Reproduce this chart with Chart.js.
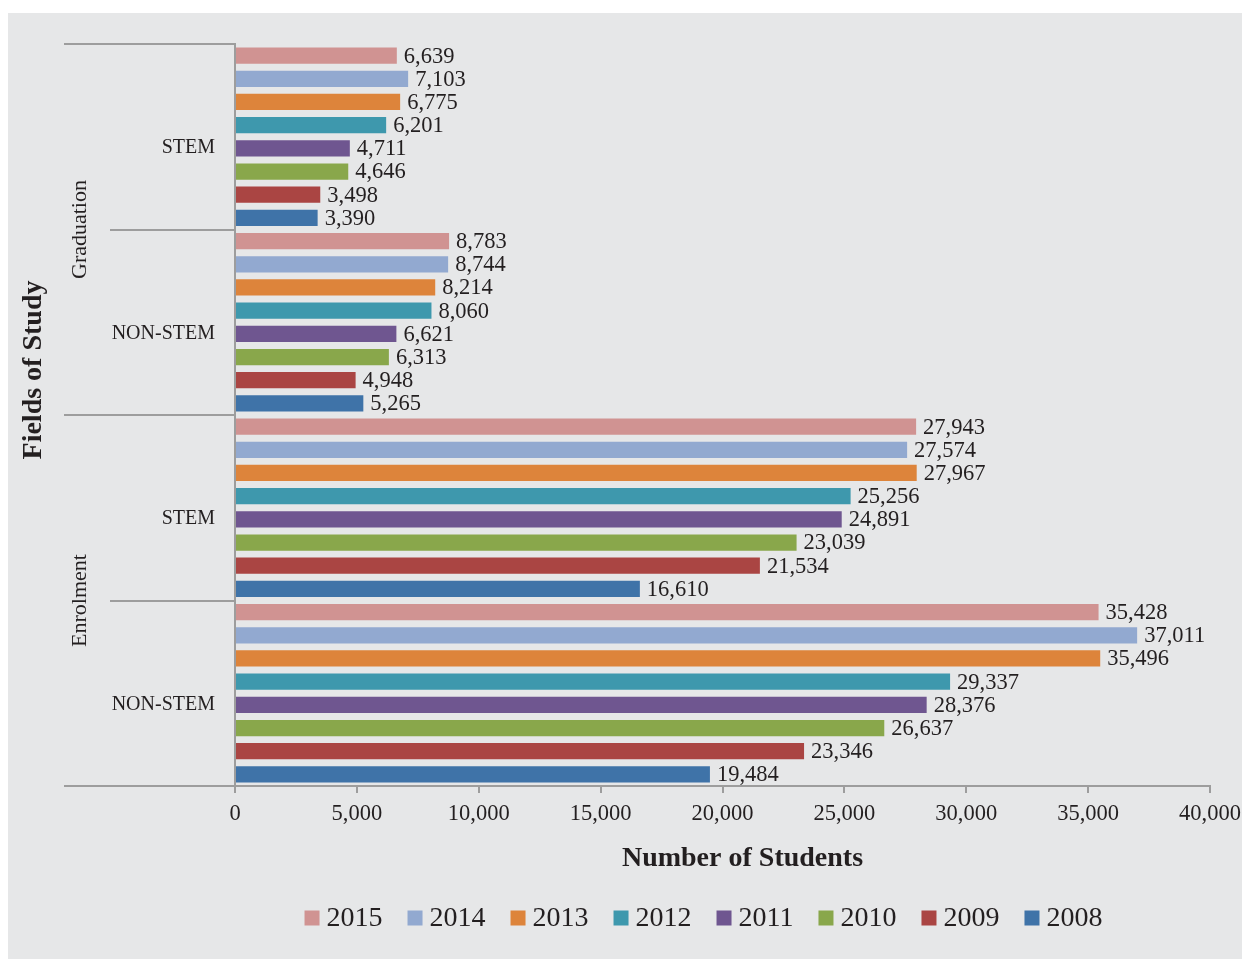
<!DOCTYPE html>
<html>
<head>
<meta charset="utf-8">
<script src="https://cdn.jsdelivr.net/npm/chart.js@4.4.1/dist/chart.umd.min.js"></script>
<style>
  html, body { margin: 0; padding: 0; background: #ffffff; }
  #wrap { position: absolute; left: 8px; top: 13px; width: 1234px; height: 946px; background: #e6e7e8; }
</style>
</head>
<body>
<div id="wrap"><canvas id="chart"></canvas></div>
<script>
// Category rows: outer level (stage) and inner level (field of study)
const stages = ['Graduation', 'Graduation', 'Enrolment', 'Enrolment'];
const fields = ['STEM', 'NON-STEM', 'STEM', 'NON-STEM'];

// Series (one per year), values per row in the order above
const years = ['2015', '2014', '2013', '2012', '2011', '2010', '2009', '2008'];
const students2015 = [6639, 8783, 27943, 35428];
const students2014 = [7103, 8744, 27574, 37011];
const students2013 = [6775, 8214, 27967, 35496];
const students2012 = [6201, 8060, 25256, 29337];
const students2011 = [4711, 6621, 24891, 28376];
const students2010 = [4646, 6313, 23039, 26637];
const students2009 = [3498, 4948, 21534, 23346];
const students2008 = [3390, 5265, 16610, 19484];
const series = [students2015, students2014, students2013, students2012,
                students2011, students2010, students2009, students2008];

// Axis range and ticks
const xMin = 0, xMax = 40000, xStep = 5000;

const yearColors = ['#d09392', '#92a9d0', '#dd843b', '#3e98ad', '#6f5690', '#89a74b', '#aa4543', '#3f73a8'];

const FONT = '"Liberation Serif", "Times New Roman", serif';
const TEXT = '#231f20';
const LINE = '#9d9d9d';
const fmt = v => Number(v).toLocaleString('en-US');

// Multi-level category axis: separators and outer group labels
const groupAxisPlugin = {
  id: 'groupAxis',
  afterDraw(chart) {
    const ctx = chart.ctx;
    const ys = chart.scales.y;
    const area = chart.chartArea;
    const n = fields.length;
    const step = ys.getPixelForValue(1) - ys.getPixelForValue(0);
    const edge = k => ys.getPixelForValue(0) - step / 2 + k * step;
    ctx.save();
    ctx.strokeStyle = LINE;
    ctx.lineWidth = 2;
    for (let k = 0; k <= n; k++) {
      const outer = k === 0 || k === n || stages[k] !== stages[k - 1];
      const y = Math.round(edge(k));
      ctx.beginPath();
      ctx.moveTo(outer ? 56 : 102, y);
      ctx.lineTo(area.left, y);
      ctx.stroke();
    }
    // outer labels, rotated
    ctx.fillStyle = TEXT;
    ctx.font = '22px ' + FONT;
    ctx.textAlign = 'center';
    ctx.textBaseline = 'middle';
    let start = 0;
    for (let k = 1; k <= n; k++) {
      if (k === n || stages[k] !== stages[start]) {
        const cy = (edge(start) + edge(k)) / 2;
        ctx.save();
        ctx.translate(72, cy);
        ctx.rotate(-Math.PI / 2);
        ctx.fillText(stages[start], 0, 0);
        ctx.restore();
        start = k;
      }
    }
    // axis titles
    ctx.font = 'bold 28px ' + FONT;
    ctx.save();
    ctx.translate(26, 357);
    ctx.rotate(-Math.PI / 2);
    ctx.fillText('Fields of Study', 0, 0);
    ctx.restore();
    ctx.fillText('Number of Students', (area.left + area.right) / 2 + 20, 846);
    ctx.restore();
  }
};

// Value labels at the end of each bar
const valueLabelPlugin = {
  id: 'valueLabels',
  afterDatasetsDraw(chart) {
    const ctx = chart.ctx;
    ctx.save();
    ctx.fillStyle = TEXT;
    ctx.font = '22.5px ' + FONT;
    ctx.textAlign = 'left';
    ctx.textBaseline = 'middle';
    chart.data.datasets.forEach((ds, i) => {
      chart.getDatasetMeta(i).data.forEach((bar, j) => {
        ctx.fillText(fmt(ds.data[j]), bar.x + 7, bar.y + 1);
      });
    });
    ctx.restore();
  }
};

// Legend row below the axis title
const legendRowPlugin = {
  id: 'legendRow',
  afterDraw(chart) {
    const ctx = chart.ctx;
    const area = chart.chartArea;
    const box = 15, gapText = 7, gapItem = 25;
    ctx.save();
    ctx.font = '28px ' + FONT;
    ctx.textBaseline = 'middle';
    ctx.textAlign = 'left';
    const items = chart.data.datasets.map(ds => ({
      label: ds.label, color: ds.backgroundColor, w: ctx.measureText(ds.label).width
    }));
    const total = items.reduce((s, it) => s + box + gapText + it.w, 0) + gapItem * (items.length - 1);
    let x = (area.left + area.right) / 2 - 19 - total / 2;
    const cy = 905;
    items.forEach(it => {
      ctx.fillStyle = it.color;
      ctx.fillRect(x, cy - box / 2, box, box);
      ctx.fillStyle = TEXT;
      ctx.fillText(it.label, x + box + gapText, cy + 1);
      x += box + gapText + it.w + gapItem;
    });
    ctx.restore();
  }
};

new Chart(document.getElementById('chart'), {
  type: 'bar',
  data: {
    labels: fields,
    datasets: years.map((y, i) => ({
      label: y,
      data: series[i],
      backgroundColor: yearColors[i],
      borderWidth: 0,
      barPercentage: 0.7,
      categoryPercentage: 1.0
    }))
  },
  options: {
    indexAxis: 'y',
    responsive: true,
    maintainAspectRatio: false,
    animation: false,
    layout: { padding: { top: 31, right: 32, left: 0, bottom: 0 } },
    plugins: { legend: { display: false }, title: { display: false }, tooltip: { enabled: false } },
    scales: {
      x: {
        type: 'linear',
        min: xMin,
        max: xMax,
        ticks: { stepSize: xStep, callback: v => fmt(v), font: { family: FONT, size: 22.5 }, color: TEXT, padding: 8, maxRotation: 0 },
        grid: { drawOnChartArea: false, drawTicks: true, tickLength: 7, color: LINE, lineWidth: 2 },
        border: { display: true, color: LINE, width: 2 },
        afterFit: s => { s.height = 173; s.paddingLeft = 0; s.paddingRight = 0; }
      },
      y: {
        type: 'category',
        ticks: { font: { family: FONT, size: 20 }, color: TEXT, padding: 12, labelOffset: 11 },
        grid: { display: false },
        border: { display: true, color: LINE, width: 2 },
        afterFit: s => { s.width = 227; s.paddingTop = 0; s.paddingBottom = 0; }
      }
    }
  },
  plugins: [groupAxisPlugin, valueLabelPlugin, legendRowPlugin]
});
</script>
</body>
</html>
